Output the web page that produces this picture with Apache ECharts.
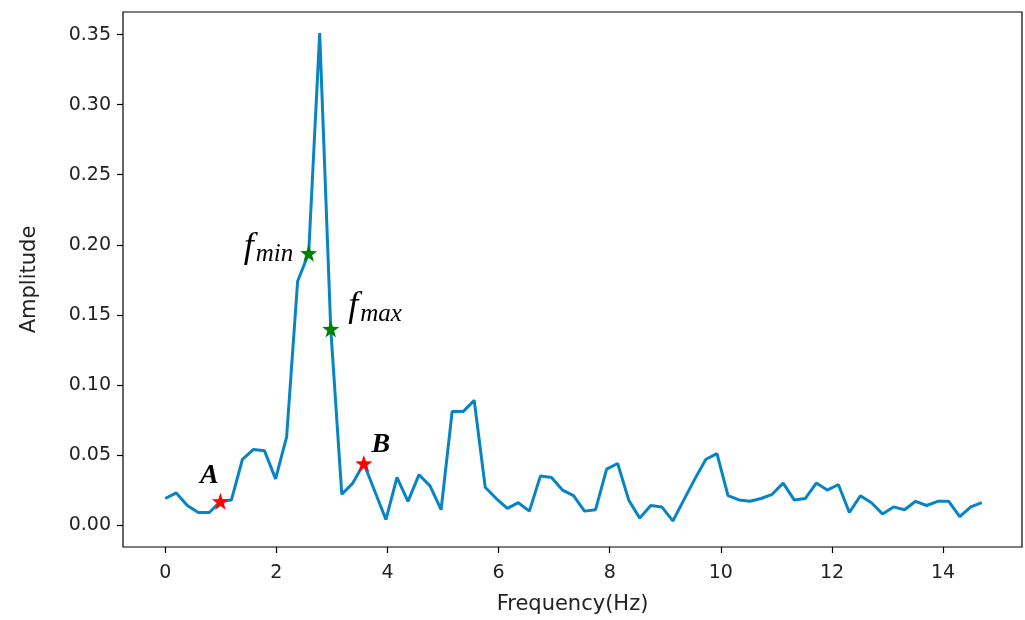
<!DOCTYPE html>
<html>
<head>
<meta charset="utf-8">
<script src="https://cdn.jsdelivr.net/npm/echarts@6/dist/echarts.min.js"></script>
<style>html,body{margin:0;padding:0;background:#fff;}#c{width:1025px;height:620px;}</style>
</head>
<body>
<div id="c"></div>
<script>
var freq = [0, 0.199, 0.397, 0.596, 0.794, 0.993, 1.192, 1.390, 1.589, 1.787,
  1.986, 2.185, 2.383, 2.582, 2.780, 2.979, 3.178, 3.376, 3.575, 3.773,
  3.972, 4.171, 4.369, 4.568, 4.766, 4.965, 5.164, 5.362, 5.561, 5.759,
  5.958, 6.157, 6.355, 6.554, 6.752, 6.951, 7.150, 7.348, 7.547, 7.745,
  7.944, 8.143, 8.341, 8.540, 8.738, 8.937, 9.136, 9.334, 9.533, 9.731,
  9.930, 10.129, 10.327, 10.526, 10.724, 10.923, 11.122, 11.320, 11.519, 11.717,
  11.916, 12.115, 12.313, 12.512, 12.710, 12.909, 13.108, 13.306, 13.505, 13.703,
  13.902, 14.101, 14.299, 14.498, 14.696];
var amplitude = [0.019, 0.023, 0.014, 0.009, 0.009, 0.017, 0.018, 0.047, 0.054, 0.053,
  0.033, 0.063, 0.174, 0.194, 0.351, 0.140, 0.022, 0.030, 0.044, 0.024,
  0.004, 0.034, 0.017, 0.036, 0.028, 0.011, 0.081, 0.081, 0.089, 0.027,
  0.019, 0.012, 0.016, 0.010, 0.035, 0.034, 0.025, 0.021, 0.010, 0.011,
  0.040, 0.044, 0.018, 0.005, 0.014, 0.013, 0.003, 0.018, 0.033, 0.047,
  0.051, 0.021, 0.018, 0.017, 0.019, 0.022, 0.030, 0.018, 0.019, 0.030,
  0.025, 0.029, 0.009, 0.021, 0.016, 0.008, 0.013, 0.011, 0.017, 0.014,
  0.017, 0.017, 0.006, 0.013, 0.016];
var xTicks = [0, 2, 4, 6, 8, 10, 12, 14];
var yTicks = [0, 0.05, 0.10, 0.15, 0.20, 0.25, 0.30, 0.35];
var redPoints = [{name: 'A', idx: 5}, {name: 'B', idx: 18}];
var greenPoints = [{name: 'min', idx: 13}, {name: 'max', idx: 15}];

var star = 'path://M0,-10 L2.35,-3.24 L9.51,-3.09 L3.8,1.24 L5.88,8.09 L0,4 L-5.88,8.09 L-3.8,1.24 L-9.51,-3.09 L-2.35,-3.24 Z';
var lineData = freq.map(function (f, i) { return [f, amplitude[i]]; });

var bigFont = 'DejaVu Sans';
var serif = 'Liberation Serif';

var redData = redPoints.map(function (p) {
  var off = p.name === 'A' ? [-11, 2] : [17, 9];
  return {
    value: [freq[p.idx], amplitude[p.idx]],
    name: p.name,
    label: {show: true, position: 'top', offset: off, formatter: p.name,
      fontFamily: serif, fontStyle: 'italic', fontWeight: 'bold', fontSize: 28, color: '#000'}
  };
});
var greenData = greenPoints.map(function (p) {
  var isMin = p.name === 'min';
  return {
    value: [freq[p.idx], amplitude[p.idx]],
    name: p.name,
    label: {show: true,
      position: isMin ? 'left' : 'right',
      offset: isMin ? [-2, -6] : [4, -22],
      formatter: '{f|f}{s|' + p.name + '}',
      rich: {
        f: {fontFamily: serif, fontStyle: 'italic', fontSize: 36, color: '#000', verticalAlign: 'bottom'},
        s: {fontFamily: serif, fontStyle: 'italic', fontSize: 25, color: '#000', verticalAlign: 'bottom', padding: [0, 0, -2, 2]}
      }
    }
  };
});

var chart = echarts.init(document.getElementById('c'), null, {renderer: 'canvas'});
chart.setOption({
  animation: false,
  backgroundColor: '#fff',
  grid: {left: 123, top: 12, width: 899, height: 539, show: true, borderColor: '#000', borderWidth: 1.2, backgroundColor: 'transparent'},
  xAxis: {
    type: 'value', min: -0.76, max: 15.42,
    name: 'Frequency(Hz)', nameLocation: 'middle', nameGap: 47,
    nameTextStyle: {fontFamily: bigFont, fontSize: 21, color: '#222'},
    axisLine: {show: false, onZero: false},
    axisTick: {show: true, length: 6, lineStyle: {color: '#000', width: 1.2}, customValues: xTicks},
    axisLabel: {fontFamily: bigFont, fontSize: 19, color: '#222', margin: 17, customValues: xTicks,
      formatter: function (v) { return String(Math.round(v)); }},
    splitLine: {show: false}
  },
  yAxis: {
    type: 'value', min: -0.0156, max: 0.3661,
    name: 'Amplitude', nameLocation: 'middle', nameGap: 83,
    nameTextStyle: {fontFamily: bigFont, fontSize: 21, color: '#222'},
    axisLine: {show: false, onZero: false},
    axisTick: {show: true, length: 6, lineStyle: {color: '#000', width: 1.2}, customValues: yTicks},
    axisLabel: {fontFamily: bigFont, fontSize: 19, color: '#222', margin: 12, customValues: yTicks,
      formatter: function (v) { return v.toFixed(2); }},
    splitLine: {show: false}
  },
  series: [
    {type: 'line', data: lineData, showSymbol: false, symbol: 'none', z: 2,
      lineStyle: {color: '#0784c4', width: 3}},
    {type: 'scatter', data: redData, symbol: star, symbolSize: 17, z: 5,
      itemStyle: {color: '#ff0000', opacity: 1}},
    {type: 'scatter', data: greenData, symbol: star, symbolSize: 17, z: 5,
      itemStyle: {color: '#008000', opacity: 1}}
  ]
});
</script>
</body>
</html>
